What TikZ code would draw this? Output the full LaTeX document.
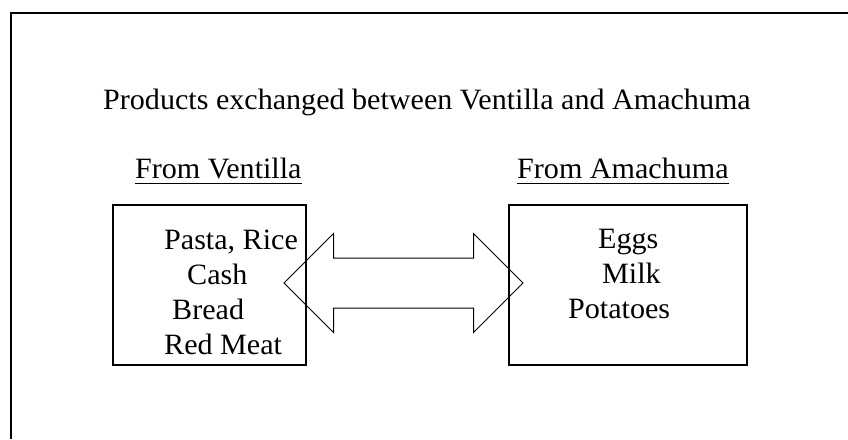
\documentclass[tikz,border=0pt]{standalone}
\usepackage{fontspec}
\setmainfont[FakeStretch=1.02]{Liberation Serif}
\usetikzlibrary{positioning,shapes.arrows}

\begin{document}
\begin{tikzpicture}[x=1pt, y=-1pt, font=\fontsize{29.5}{35}\selectfont,
	every node/.style={inner sep=0pt},
	txt/.style={anchor=base west},
	goods/.style={draw, line width=1.3pt, minimum width=#1, minimum height=160pt}]
\useasboundingbox (0,0) rectangle (848,439);
\draw[line width=1.4pt] (848,13) -- (11,13) -- (11,439);

\node[txt]	(title)	at (103,109)	{Products exchanged between Ventilla and Amachuma};
\node[txt]	(fromV)	at (135,178)	{From Ventilla};
\node[txt]	(fromA)	at (517,178)	{From Amachuma};
\draw[line width=1pt] ([yshift=-5pt]fromV.base west) -- ([yshift=-5pt]fromV.base east);
\draw[line width=1pt] ([yshift=-5pt]fromA.base west) -- ([yshift=-5pt]fromA.base east);

\node[goods=193pt]	(ventilla)	at (209.5,285)	{};
\node[goods=238pt]	(amachuma)	at (628,285)	{};

\node[txt]	(pasta)		at (164,249)	{Pasta, Rice};
\node[txt]	(cash)		at (187,284)	{Cash};
\node[txt]	(bread)		at (172,319)	{Bread};
\node[txt]	(meat)		at (164,354)	{Red Meat};

\node[txt]	(eggs)		at (598,248)	{Eggs};
\node[txt]	(milk)		at (602,283)	{Milk};
\node[txt]	(potatoes)	at (568,318)	{Potatoes};

\node[double arrow, draw, line width=1pt, minimum height=239pt, inner xsep=0pt, inner ysep=24.5pt,
	double arrow head extend=24.5pt, double arrow tip angle=90]	(swap)	at (403.5,283)	{};
\end{tikzpicture}
\end{document}
